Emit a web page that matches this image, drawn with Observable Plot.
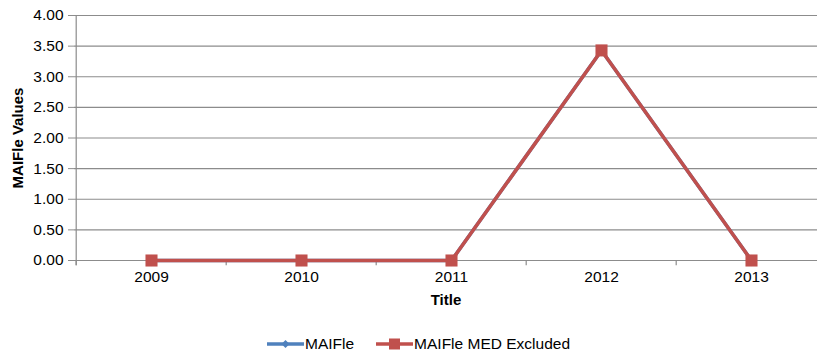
<!DOCTYPE html>
<html>
<head>
<meta charset="utf-8">
<script src="https://cdn.jsdelivr.net/npm/d3@7"></script>
<script src="https://cdn.jsdelivr.net/npm/@observablehq/plot@0.6"></script>
<style>
  html, body { margin: 0; padding: 0; background: #fff; }
  body { width: 817px; height: 354px; overflow: hidden; font-family: "Liberation Sans", Arial, sans-serif; }
  #chart svg text { font-size: 15.5px !important; fill: #000; }
  #chart svg [aria-label$='axis label'] text { font-size: 15px !important; }
  #legend { display: flex; justify-content: flex-start; align-items: center; height: 20px; margin-top: 24px; font-size: 15.5px; color: #000; padding-left: 267px; }
  .item { display: flex; align-items: center; margin-right: 22px; }
  .item svg { margin-right: 1px; }
</style>
</head>
<body>
<div id="chart"></div>
<div id="legend"></div>
<script>
const years = ["2009", "2010", "2011", "2012", "2013"];
const maifle = [0, 0, 0, 3.43, 0];
const maifleMedExcluded = [0, 0, 0, 3.43, 0];
const yTicks = [0, 0.5, 1, 1.5, 2, 2.5, 3, 3.5, 4];
const seriesNames = ["MAIFle", "MAIFle MED Excluded"];
const colors = ["#4F81BD", "#C0504D"];

const blue = years.map((y, i) => ({year: y, value: maifle[i]}));
const red = years.map((y, i) => ({year: y, value: maifleMedExcluded[i]}));

const xRange = [74, 827];
const step = (xRange[1] - xRange[0]) / years.length;

const chart = Plot.plot({
  width: 817,
  height: 310,
  marginTop: 15,
  marginBottom: 50,
  marginLeft: 74,
  marginRight: 0,
  style: {fontFamily: "Liberation Sans, Arial, sans-serif", fontSize: "15.5px", color: "#000", background: "#fff"},
  x: {type: "band", domain: years, range: xRange, padding: 0},
  y: {domain: [0, 4], ticks: yTicks},
  marks: [
    Plot.gridY(yTicks, {stroke: "#8c8c8c", strokeOpacity: 1, strokeWidth: 1.2}),
    Plot.ruleX([0], {x: () => years[0], dx: -step / 2, y1: -0.085, y2: 4, stroke: "#8c8c8c", strokeWidth: 1.2}),
    Plot.ruleX(years, {x: d => d, dx: -step / 2, y1: -0.085, y2: 0, stroke: "#8c8c8c", strokeWidth: 1.2}),
    Plot.axisY(yTicks, {
      tickFormat: d => d.toFixed(2), tickSize: 6, tickPadding: 5, stroke: "#8c8c8c",
      label: "MAIFle Values", labelAnchor: "center", labelOffset: 62
    }),
    Plot.axisX(years, {tickSize: 0, tickPadding: 10, label: "Title", labelAnchor: "center", labelOffset: 44}),
    Plot.lineY(blue, {x: "year", y: "value", stroke: colors[0], strokeWidth: 3.5}),
    Plot.dot(blue, {x: "year", y: "value", symbol: "diamond", r: 3.5, fill: colors[0]}),
    Plot.lineY(red, {x: "year", y: "value", stroke: colors[1], strokeWidth: 3.5}),
    Plot.dot(red, {x: "year", y: "value", symbol: "square", r: 6.8, fill: colors[1]})
  ]
});

d3.select(chart).selectAll("[aria-label='y-axis label'] text, [aria-label='x-axis label'] text")
  .attr("font-weight", "bold")
  .text(function() { return this.textContent.replace(/[\u2190-\u2193]/g, "").trim(); });

document.getElementById("chart").appendChild(chart);

const legend = d3.select("#legend");
seriesNames.forEach((name, i) => {
  const item = legend.append("div").attr("class", "item");
  const svg = item.append("svg").attr("width", 37).attr("height", 14);
  svg.append("line").attr("x1", 0).attr("x2", 37).attr("y1", 7).attr("y2", 7)
    .attr("stroke", colors[i]).attr("stroke-width", 3.5);
  if (i === 0) {
    svg.append("path").attr("d", "M18.5,3 L22.5,7 L18.5,11 L14.5,7 Z").attr("fill", colors[i]);
  } else {
    svg.append("rect").attr("x", 13).attr("y", 1.5).attr("width", 11).attr("height", 11).attr("fill", colors[i]);
  }
  item.append("span").text(name);
});
</script>
</body>
</html>
